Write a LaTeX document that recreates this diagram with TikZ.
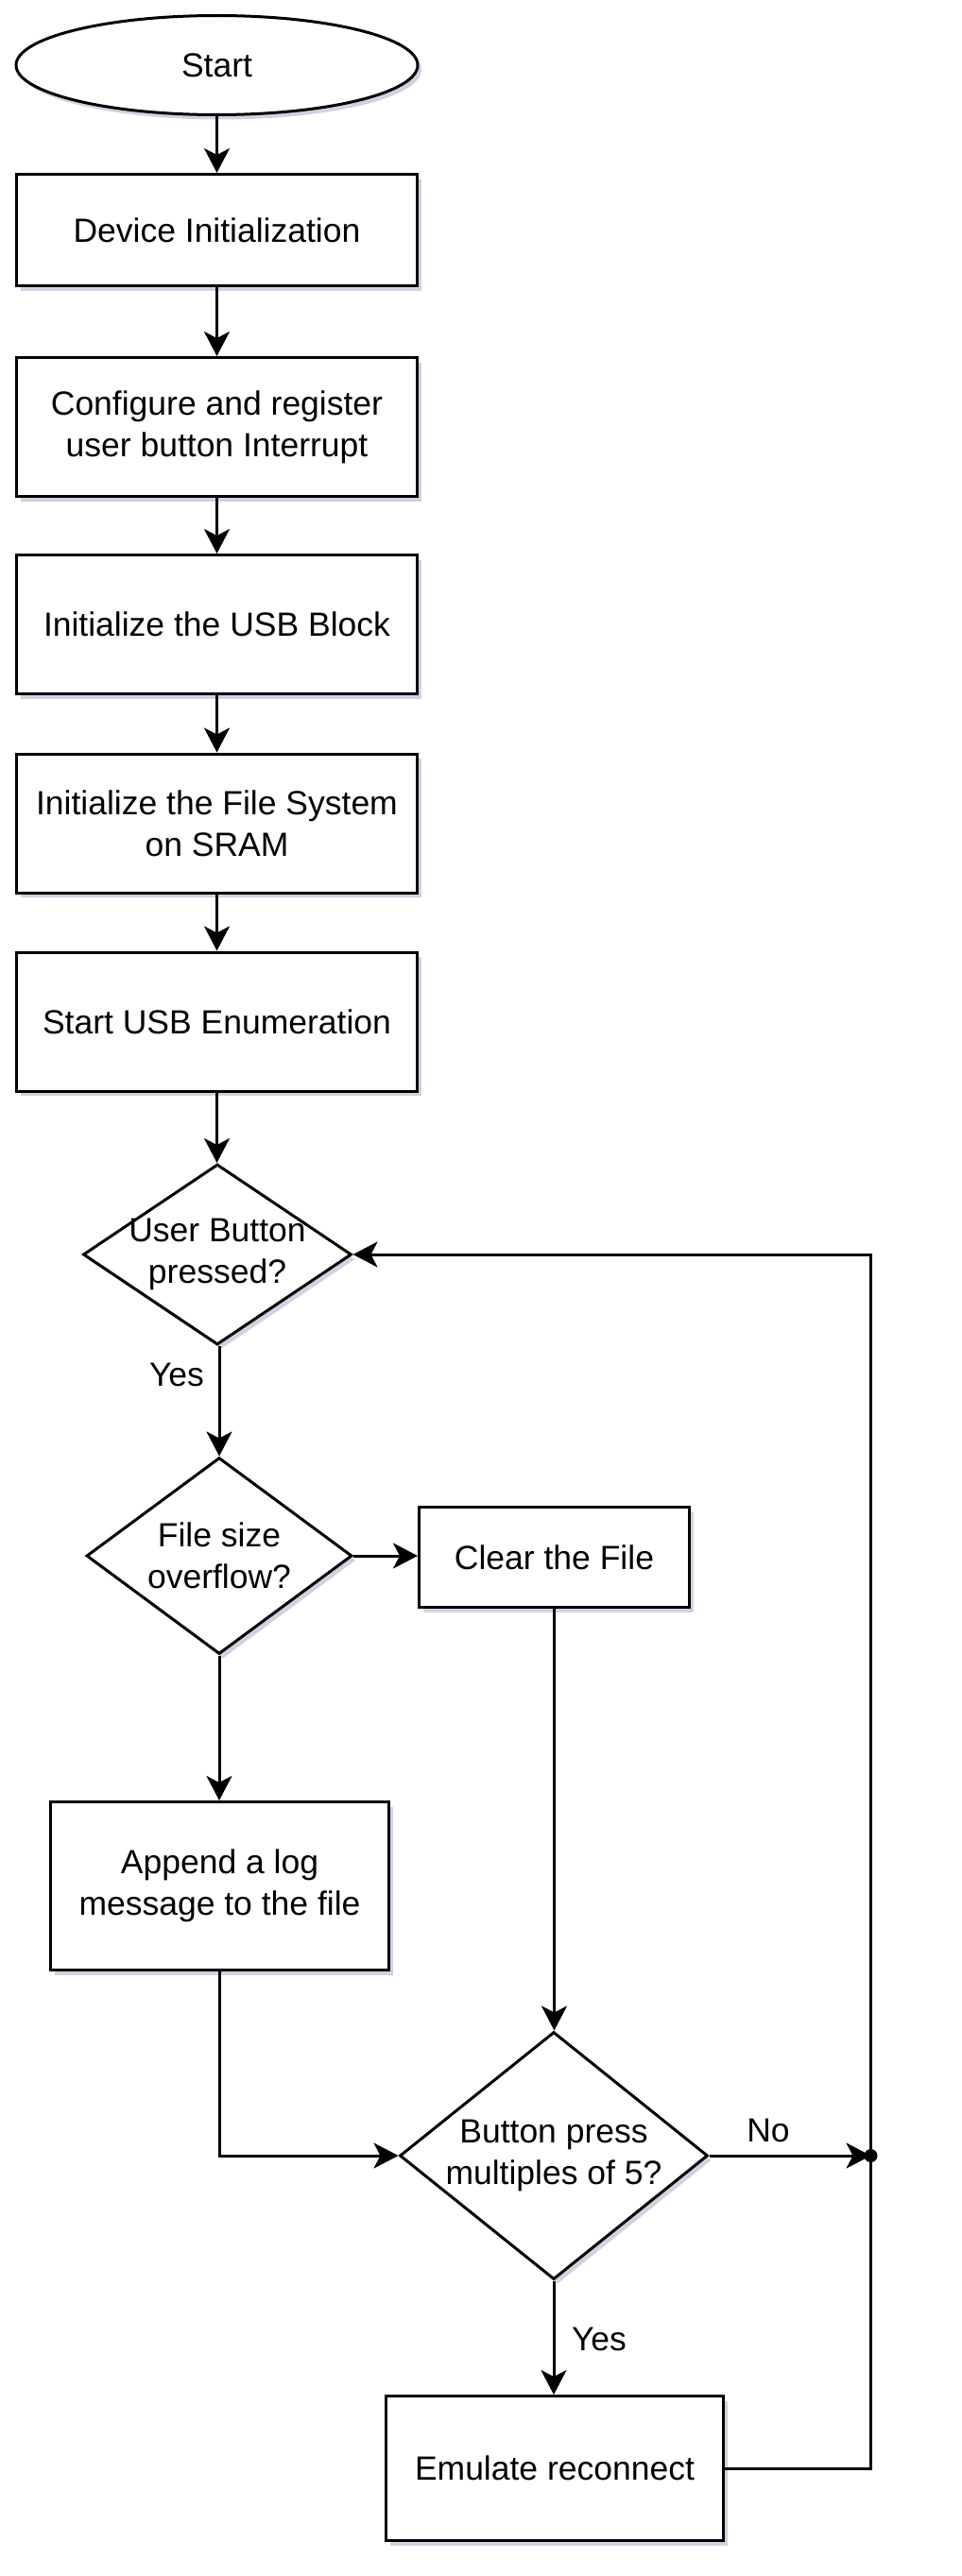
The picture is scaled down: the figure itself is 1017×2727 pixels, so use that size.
\documentclass[tikz,border=0pt]{standalone}
\usepackage{fontspec}
\setmainfont{Liberation Sans}
\usetikzlibrary{shapes.geometric,arrows.meta,shadows}
\definecolor{shadowc}{RGB}{120,125,170}
\begin{document}
\begin{tikzpicture}[x=1pt,y=-1pt,
  every node/.style={font=\fontsize{35.5}{44}\selectfont, align=center, text=black},
  shad/.style={drop shadow={shadow xshift=4pt, shadow yshift=-5pt, fill=shadowc, opacity=0.35}},
  box/.style={draw=black, line width=3pt, fill=white, rectangle, inner sep=0pt, shad},
  dia/.style={draw=black, line width=3pt, fill=white, diamond, inner sep=0pt, shad},
  oval/.style={draw=black, line width=3pt, fill=white, ellipse, inner sep=0pt, shad},
  conn/.style={line width=3pt, -{Stealth[length=26pt,width=27pt,inset=7pt]}},
  lbl/.style={inner sep=0pt}
]
\useasboundingbox (0,0) rectangle (1017,2727);

\node[oval, minimum width=425pt, minimum height=105pt] (start) at (229.5,69) {Start};
\node[box, minimum width=424pt, minimum height=118pt] (dev) at (229.5,243.5) {Device Initialization};
\node[box, minimum width=424pt, minimum height=147pt] (conf) at (229.5,452) {Configure and register\\user button Interrupt};
\node[box, minimum width=424pt, minimum height=147pt] (usb) at (229.5,661) {Initialize the USB Block};
\node[box, minimum width=424pt, minimum height=147pt] (fs) at (229.5,871.5) {Initialize the File System\\on SRAM};
\node[box, minimum width=424pt, minimum height=147pt] (enum) at (229.5,1081.5) {Start USB Enumeration};

\node[dia, minimum width=284pt, minimum height=191pt, label={center:{User Button\\pressed?}}] (d1) at (230,1328) {};
\node[dia, minimum width=281pt, minimum height=208pt, label={center:{File size\\overflow?}}] (d2) at (232,1647) {};
\node[box, minimum width=286pt, minimum height=106pt] (clear) at (586.5,1648.5) {Clear the File};
\node[box, minimum width=358pt, minimum height=178pt] (append) at (232.5,1996.5) {Append a log\\message to the file};
\node[dia, minimum width=326pt, minimum height=262pt, label={center:{Button press\\multiples of 5?}}] (d3) at (586,2282) {};
\node[box, minimum width=357pt, minimum height=153pt] (emu) at (587,2613) {Emulate reconnect};

\node[lbl] (yes1) at (187,1455) {Yes};
\node[lbl] (no1) at (813,2255) {No};
\node[lbl] (yes2) at (634,2476) {Yes};

\coordinate (junc) at (921.5,2282);

\draw[conn] (start.south) -- (dev.north);
\draw[conn] (dev.south) -- (conf.north);
\draw[conn] (conf.south) -- (usb.north);
\draw[conn] (usb.south) -- (fs.north);
\draw[conn] (fs.south) -- (enum.north);
\draw[conn] (enum.south) -- (enum.south |- d1.north);
\draw[conn] (d2.north |- d1.south) -- (d2.north);
\draw[conn] (d2.east) -- (d2.east -| clear.west);
\draw[conn] (d2.south) -- (d2.south |- append.north);
\draw[conn] (clear.south) -- (clear.south |- d3.north);
\draw[conn] (append.south) |- (d3.west);
\draw[conn] (d3.east) -- (junc);
\draw[conn] (d3.south) -- (d3.south |- emu.north);
\draw[conn] (emu.east) -| (junc) |- (d1.east);
\fill (junc) circle (7pt);
\end{tikzpicture}
\end{document}
